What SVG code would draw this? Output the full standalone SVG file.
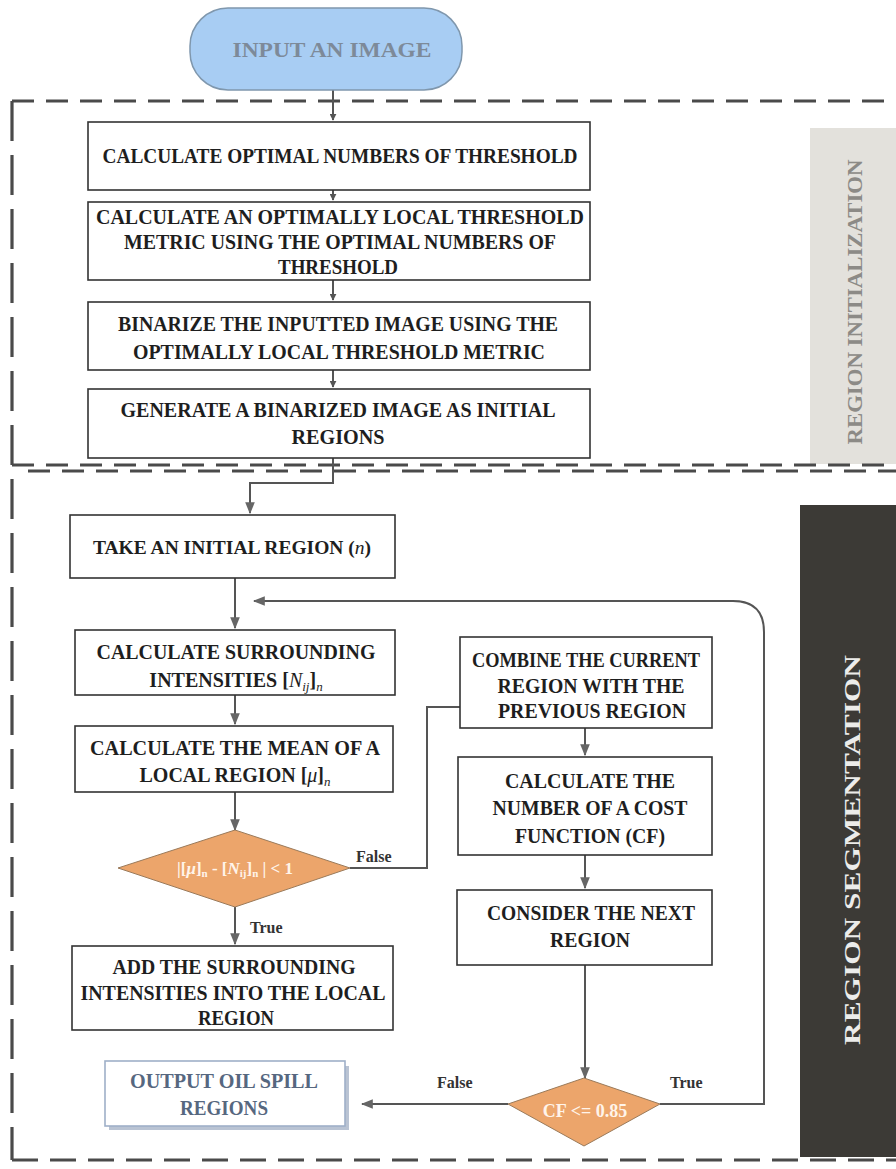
<svg xmlns="http://www.w3.org/2000/svg" width="896" height="1169" viewBox="0 0 896 1169">
<defs>
<style>
.t{font-family:"Liberation Serif","Times New Roman",serif;font-weight:bold;font-size:21px;fill:#1e1e1e;text-anchor:middle}
.box{fill:#fff;stroke:#333;stroke-width:1.6}
.con{fill:none;stroke:#555;stroke-width:2}
.lbl{font-family:"Liberation Serif","Times New Roman",serif;font-weight:bold;font-size:16px;fill:#333}
.dash{fill:none;stroke:#4a4a4a;stroke-width:3.2}
.dia{fill:#eca56b;stroke:#9a7a5a;stroke-width:1}
.dt{font-family:"Liberation Serif","Times New Roman",serif;font-weight:bold;font-size:17px;fill:#fff4ea;text-anchor:middle}
</style>
<marker id="ah" viewBox="0 0 10 10" refX="9" refY="5" markerWidth="7" markerHeight="7" orient="auto" markerUnits="userSpaceOnUse">
<path d="M0,0 L10,5 L0,10 z" fill="#555"/>
</marker>
<marker id="ahb" viewBox="0 0 10 10" refX="9" refY="5" markerWidth="12" markerHeight="12" orient="auto" markerUnits="userSpaceOnUse">
<path d="M0,1 L10,5 L0,9 z" fill="#666"/>
</marker>
</defs>
<rect width="896" height="1169" fill="#fff"/>

<g id="panel-init">
<rect x="810" y="128" width="86" height="336" fill="#e3e1dc"/>
<text class="t" transform="translate(862,302) rotate(-90)" style="fill:#8c8a86;font-size:21px" textLength="285" lengthAdjust="spacingAndGlyphs">REGION INITIALIZATION</text>
</g>
<g id="panel-seg">
<rect x="800" y="505" width="96" height="652" fill="#3c3a36"/>
<text class="t" transform="translate(860,850) rotate(-90)" style="fill:#ececea;font-size:24px" textLength="390" lengthAdjust="spacingAndGlyphs">REGION SEGMENTATION</text>
</g>

<g id="boundaries">
<path class="dash" d="M12,101 H896" stroke-dasharray="22,12"/>
<path class="dash" d="M12,101 V1160" stroke-dasharray="40,14"/>
<path class="dash" d="M12,465 H896" stroke-dasharray="22,12"/>
<path class="dash" d="M28,471 H896" stroke-dasharray="22,12"/>
<path class="dash" d="M12,1160 H896" stroke-dasharray="26,12"/>
</g>

<g id="connectors">
<path class="con" d="M333,90 V120" marker-end="url(#ah)"/>
<path class="con" d="M333,190 V200" marker-end="url(#ah)"/>
<path class="con" d="M333,280 V300" marker-end="url(#ah)"/>
<path class="con" d="M333,370 V387" marker-end="url(#ah)"/>
<path class="con" d="M333,458 V483 H250 V513" marker-end="url(#ahb)"/>
<path class="con" d="M235,578 V628" marker-end="url(#ahb)"/>
<path class="con" d="M235,695 V724" marker-end="url(#ahb)"/>
<path class="con" d="M235,792 V830" marker-end="url(#ahb)"/>
<path class="con" d="M235,907 V944" marker-end="url(#ahb)"/>
<path class="con" d="M350,868 H427 V707 H460"/>
<path class="con" d="M585,728 V755" marker-end="url(#ahb)"/>
<path class="con" d="M585,855 V888" marker-end="url(#ahb)"/>
<path class="con" d="M585,965 V1078" marker-end="url(#ahb)"/>
<path class="con" d="M508,1104 H362" marker-end="url(#ahb)"/>
<path class="con" d="M660,1104 H764 V632 Q764,601 733,601 H254" marker-end="url(#ahb)"/>
<text class="lbl" x="356" y="862">False</text>
<text class="lbl" x="250" y="933">True</text>
<text class="lbl" x="437" y="1088">False</text>
<text class="lbl" x="670" y="1088">True</text>
</g>

<g id="start">
<rect x="190" y="8" width="272" height="82" rx="38" ry="38" fill="#a8cdf3" stroke="#7f97ad" stroke-width="1.5"/>
<text class="t" x="332" y="57" style="fill:#7d8a99" textLength="199" lengthAdjust="spacingAndGlyphs">INPUT AN IMAGE</text>
</g>

<g id="n1">
<rect class="box" x="88" y="122" width="502" height="68"/>
<text class="t" x="340" y="163" textLength="475" lengthAdjust="spacingAndGlyphs">CALCULATE OPTIMAL NUMBERS OF THRESHOLD</text>
</g>
<g id="n2">
<rect class="box" x="88" y="202" width="502" height="78"/>
<text class="t" x="340" y="224" textLength="488" lengthAdjust="spacingAndGlyphs">CALCULATE AN OPTIMALLY LOCAL THRESHOLD</text>
<text class="t" x="340" y="249" textLength="432" lengthAdjust="spacingAndGlyphs">METRIC USING THE OPTIMAL NUMBERS OF</text>
<text class="t" x="338" y="274" textLength="120" lengthAdjust="spacingAndGlyphs">THRESHOLD</text>
</g>
<g id="n3">
<rect class="box" x="88" y="302" width="502" height="68"/>
<text class="t" x="338" y="331" textLength="440" lengthAdjust="spacingAndGlyphs">BINARIZE THE INPUTTED IMAGE USING THE</text>
<text class="t" x="339" y="359" textLength="412" lengthAdjust="spacingAndGlyphs">OPTIMALLY LOCAL THRESHOLD METRIC</text>
</g>
<g id="n4">
<rect class="box" x="88" y="389" width="502" height="69"/>
<text class="t" x="338" y="417" textLength="435" lengthAdjust="spacingAndGlyphs">GENERATE A BINARIZED IMAGE AS INITIAL</text>
<text class="t" x="338" y="444" textLength="93" lengthAdjust="spacingAndGlyphs">REGIONS</text>
</g>

<g id="n5">
<rect class="box" x="70" y="515" width="325" height="63"/>
<text class="t" x="232" y="554" style="font-size:19.5px">TAKE AN INITIAL REGION (<tspan font-style="italic" font-weight="normal">n</tspan>)</text>
</g>
<g id="n6">
<rect class="box" x="75" y="630" width="320" height="65"/>
<text class="t" x="236" y="659" textLength="279" lengthAdjust="spacingAndGlyphs">CALCULATE SURROUNDING</text>
<text class="t" x="236" y="687" style="font-size:20px">INTENSITIES [<tspan font-style="italic" font-weight="normal">N</tspan><tspan font-style="italic" font-weight="normal" font-size="13" dy="4">ij</tspan><tspan dy="-4">]</tspan><tspan font-style="italic" font-weight="normal" font-size="13" dy="4">n</tspan></text>
</g>
<g id="n7">
<rect class="box" x="75" y="726" width="318" height="66"/>
<text class="t" x="235" y="755" textLength="290" lengthAdjust="spacingAndGlyphs">CALCULATE THE MEAN OF A</text>
<text class="t" x="235" y="782" style="font-size:20px">LOCAL REGION [<tspan font-style="italic" font-weight="normal">μ</tspan>]<tspan font-style="italic" font-weight="normal" font-size="13" dy="4">n</tspan></text>
</g>
<g id="d1">
<polygon class="dia" points="235,830 350,868 235,907 118,868"/>
<text class="dt" x="235" y="874">|[<tspan font-style="italic">μ</tspan>]<tspan font-size="11" dy="3">n</tspan><tspan dy="-3"> - [</tspan><tspan font-style="italic">N</tspan><tspan font-size="11" dy="3">ij</tspan><tspan dy="-3">]</tspan><tspan font-size="11" dy="3">n</tspan><tspan dy="-3"> | &lt; 1</tspan></text>
</g>
<g id="n9">
<rect class="box" x="72" y="946" width="321" height="84"/>
<text class="t" x="234" y="974" textLength="243" lengthAdjust="spacingAndGlyphs">ADD THE SURROUNDING</text>
<text class="t" x="233" y="1000" textLength="305" lengthAdjust="spacingAndGlyphs">INTENSITIES INTO THE LOCAL</text>
<text class="t" x="236" y="1025" textLength="76" lengthAdjust="spacingAndGlyphs">REGION</text>
</g>
<g id="n8">
<rect class="box" x="460" y="637" width="252" height="91"/>
<text class="t" x="586" y="667" textLength="228" lengthAdjust="spacingAndGlyphs">COMBINE THE CURRENT</text>
<text class="t" x="591" y="693" textLength="187" lengthAdjust="spacingAndGlyphs">REGION WITH THE</text>
<text class="t" x="592" y="718" textLength="188" lengthAdjust="spacingAndGlyphs">PREVIOUS REGION</text>
</g>
<g id="n10">
<rect class="box" x="458" y="757" width="254" height="98"/>
<text class="t" x="590" y="788" textLength="170" lengthAdjust="spacingAndGlyphs">CALCULATE THE</text>
<text class="t" x="590" y="815" textLength="195" lengthAdjust="spacingAndGlyphs">NUMBER OF A COST</text>
<text class="t" x="590" y="843" textLength="150" lengthAdjust="spacingAndGlyphs">FUNCTION (CF)</text>
</g>
<g id="n11">
<rect class="box" x="457" y="890" width="255" height="75"/>
<text class="t" x="591" y="920" textLength="208" lengthAdjust="spacingAndGlyphs">CONSIDER THE NEXT</text>
<text class="t" x="590" y="947" textLength="80" lengthAdjust="spacingAndGlyphs">REGION</text>
</g>
<g id="d2">
<polygon class="dia" points="584,1078 660,1104 584,1146 508,1104"/>
<text class="dt" x="585" y="1117" style="font-size:18px">CF &lt;= 0.85</text>
</g>
<g id="out">
<rect x="109" y="1066" width="240" height="64" fill="#b9c3d3"/>
<rect x="105" y="1061" width="240" height="65" fill="#fff" stroke="#9fb0c8" stroke-width="1.6"/>
<text class="t" x="224" y="1088" style="fill:#56677f" textLength="188" lengthAdjust="spacingAndGlyphs">OUTPUT OIL SPILL</text>
<text class="t" x="224" y="1115" style="fill:#56677f" textLength="88" lengthAdjust="spacingAndGlyphs">REGIONS</text>
</g>
</svg>
